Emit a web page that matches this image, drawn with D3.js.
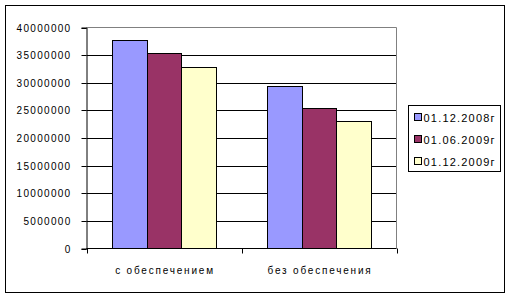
<!DOCTYPE html>
<html><head><meta charset="utf-8">
<script src="https://cdn.jsdelivr.net/npm/d3@7"></script>
<style>
html,body{margin:0;padding:0;background:#fff;}
svg text{font-family:"Liberation Sans",Arial,sans-serif;font-size:10px;fill:#000;}
</style></head>
<body><svg id="c" width="510" height="297"></svg>
<script>
const categories = ["с обеспечением", "без обеспечения"];
const seriesNames = ["01.12.2008г", "01.06.2009г", "01.12.2009г"];
const series2008_12 = [37800000, 29500000];
const series2009_06 = [35300000, 25500000];
const series2009_12 = [32900000, 23000000];
const yTicks = [0, 5000000, 10000000, 15000000, 20000000, 25000000, 30000000, 35000000, 40000000];
const colors = ["#9999FF", "#993366", "#FFFFCC"];

(function(){
const seriesValues = [series2008_12, series2009_06, series2009_12];
const svg = d3.select("#c");

// outer chart border
svg.append("rect").attr("x",5.5).attr("y",5.5).attr("width",499).attr("height",287)
  .attr("fill","#fff").attr("stroke","#000");

const pL = 86.5, pR = 396.5, pT = 27.5, pB = 248.5;
const y = d3.scaleLinear().domain([0, 40000000]).range([pB, pT]);
const x0 = d3.scaleBand().domain(categories).range([pL, pR]).padding(0);
const gap = 1.5;
const barW = x0.bandwidth() / (seriesNames.length + gap);
const x1 = d3.scaleBand().domain(seriesNames)
  .range([barW*gap/2, barW*gap/2 + barW*seriesNames.length]).padding(0);

// gridlines
svg.append("g").selectAll("line").data(yTicks.filter(t => t > 0 && t < 40000000)).join("line")
  .attr("x1", pL).attr("x2", pR)
  .attr("y1", d => Math.round(y(d)) + 0.5).attr("y2", d => Math.round(y(d)) + 0.5)
  .attr("stroke", "#000");
// plot border top/right grey
svg.append("path").attr("d", `M${pL},${pT}H${pR}V${pB}`).attr("fill","none").attr("stroke","#808080");

// bars
const data = [];
categories.forEach((c, i) => seriesNames.forEach((s, j) => data.push({c, s, j, v: seriesValues[j][i]})));
svg.append("g").selectAll("rect").data(data).join("rect")
  .attr("x", d => Math.round(x0(d.c) + x1(d.s)) + 0.5)
  .attr("width", d => Math.round(x0(d.c) + x1(d.s) + barW) - Math.round(x0(d.c) + x1(d.s)))
  .attr("y", d => Math.round(y(d.v)) + 0.5)
  .attr("height", d => pB - (Math.round(y(d.v)) + 0.5))
  .attr("fill", d => colors[d.j]).attr("stroke", "#000");

// y axis
const yAxis = svg.append("g").attr("transform", `translate(${pL},0)`)
  .call(d3.axisLeft(y).tickValues(yTicks).tickSize(5).tickPadding(10).tickFormat(d3.format("d")));
yAxis.attr("font-family",null).attr("font-size",null);
yAxis.select(".domain").attr("stroke","#000");
yAxis.selectAll(".tick line").attr("stroke","#000");
yAxis.selectAll(".tick").attr("transform", d => `translate(0,${Math.round(y(d)) + 0.5})`);
yAxis.selectAll("text").attr("fill","#000")
  .style("letter-spacing","1.3px").attr("dy","0.36em");

// x axis
const xAxis = svg.append("g").attr("transform", `translate(0,${pB})`);
xAxis.append("line").attr("x1",pL).attr("x2",pR).attr("y1",0).attr("y2",0).attr("stroke","#000");
const bounds = categories.map(c => x0(c)).concat([pR]);
xAxis.selectAll("line.t").data(bounds).join("line").attr("class","t")
  .attr("x1", d => Math.round(d) + 0.5).attr("x2", d => Math.round(d) + 0.5)
  .attr("y1", 0).attr("y2", 5).attr("stroke","#000");
xAxis.selectAll("text").data(categories).join("text")
  .attr("x", d => x0(d) + x0.bandwidth()/2 + 1).attr("y", 25.5)
  .attr("text-anchor","middle").style("letter-spacing","1.8px").text(d => d);

// legend
const lg = svg.append("g").attr("transform","translate(408.5,105.5)");
lg.append("rect").attr("width",92).attr("height",66).attr("fill","#fff").attr("stroke","#000");
const items = lg.selectAll("g").data(seriesNames).join("g")
  .attr("transform", (d,i) => `translate(6,${8 + i*22})`);
items.append("rect").attr("width",7).attr("height",7)
  .attr("fill",(d,i) => colors[i]).attr("stroke","#000");
items.append("text").attr("x",9).attr("y",8).style("font-size","11px")
  .style("letter-spacing","1.2px").text(d => d);
})();
</script></body></html>
